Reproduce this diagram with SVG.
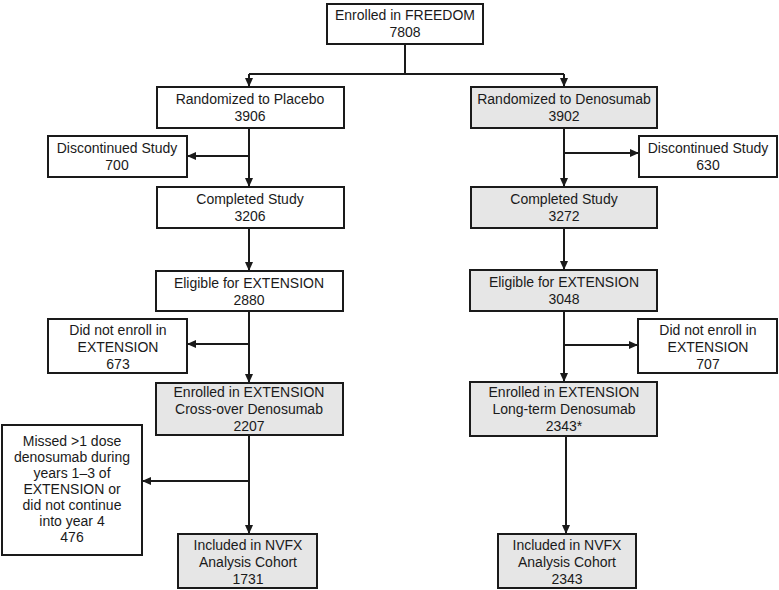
<svg xmlns="http://www.w3.org/2000/svg" width="779" height="590" viewBox="0 0 779 590">
<defs>
<marker id="ah" markerUnits="userSpaceOnUse" markerWidth="9" markerHeight="8" refX="8" refY="4" orient="auto">
<path d="M0,0 L9,4 L0,8 Z" fill="#1a1a1a"/>
</marker>
<style>
.b{fill:#fff;stroke:#1a1a1a;stroke-width:2}
.g{fill:#e6e6e6;stroke:#1a1a1a;stroke-width:2}
.t{font-family:"Liberation Sans",Arial,sans-serif;font-size:14px;fill:#1a1a1a;text-anchor:middle}
.c{fill:none;stroke:#1a1a1a;stroke-width:2}
.a{fill:none;stroke:#1a1a1a;stroke-width:2;marker-end:url(#ah)}
</style>
</defs>
<rect width="779" height="590" fill="#fff"/>
<g id="connectors">
<path class="c" d="M405,44 V74 M249,74 H564"/>
<path class="a" d="M249,74 V86"/>
<path class="a" d="M564,74 V86"/>
<path class="a" d="M249,128 V186"/>
<path class="a" d="M249,156 H188"/>
<path class="a" d="M564,128 V186"/>
<path class="a" d="M564,153 H638"/>
<path class="a" d="M249,228 V270"/>
<path class="a" d="M564,228 V269"/>
<path class="a" d="M249,311 V382"/>
<path class="a" d="M249,344 H188"/>
<path class="a" d="M564,311 V381"/>
<path class="a" d="M564,345 H637"/>
<path class="a" d="M249,435 V533"/>
<path class="a" d="M249,481 H143"/>
<path class="a" d="M566,436 V533"/>
</g>
<g id="n_freedom"><rect class="b" x="327" y="4" width="156" height="40"/><text class="t" x="405" y="20">Enrolled in FREEDOM</text><text class="t" x="405" y="37">7808</text></g>
<g id="n_placebo"><rect class="b" x="157" y="87" width="187" height="41"/><text class="t" x="250" y="104">Randomized to Placebo</text><text class="t" x="250" y="121">3906</text></g>
<g id="n_denosumab"><rect class="g" x="471" y="87" width="186" height="41"/><text class="t" x="564" y="104">Randomized to Denosumab</text><text class="t" x="564" y="121">3902</text></g>
<g id="n_disc_l"><rect class="b" x="48" y="136" width="139" height="41"/><text class="t" x="117" y="153">Discontinued Study</text><text class="t" x="117" y="170">700</text></g>
<g id="n_disc_r"><rect class="b" x="639" y="136" width="138" height="41"/><text class="t" x="708" y="153">Discontinued Study</text><text class="t" x="708" y="170">630</text></g>
<g id="n_comp_l"><rect class="b" x="157" y="187" width="187" height="41"/><text class="t" x="250" y="204">Completed Study</text><text class="t" x="250" y="221">3206</text></g>
<g id="n_comp_r"><rect class="g" x="471" y="187" width="186" height="41"/><text class="t" x="564" y="204">Completed Study</text><text class="t" x="564" y="221">3272</text></g>
<g id="n_elig_l"><rect class="b" x="156" y="271" width="187" height="40"/><text class="t" x="249" y="288">Eligible for EXTENSION</text><text class="t" x="249" y="305">2880</text></g>
<g id="n_elig_r"><rect class="g" x="470" y="270" width="187" height="41"/><text class="t" x="564" y="287">Eligible for EXTENSION</text><text class="t" x="564" y="304">3048</text></g>
<g id="n_dne_l"><rect class="b" x="48" y="319" width="139" height="54"/><text class="t" x="118" y="335">Did not enroll in</text><text class="t" x="118" y="352">EXTENSION</text><text class="t" x="118" y="369">673</text></g>
<g id="n_dne_r"><rect class="b" x="638" y="319" width="139" height="54"/><text class="t" x="708" y="335">Did not enroll in</text><text class="t" x="708" y="352">EXTENSION</text><text class="t" x="708" y="369">707</text></g>
<g id="n_enr_l"><rect class="g" x="156" y="383" width="187" height="52"/><text class="t" x="249" y="397">Enrolled in EXTENSION</text><text class="t" x="249" y="414">Cross-over Denosumab</text><text class="t" x="249" y="431">2207</text></g>
<g id="n_enr_r"><rect class="g" x="470" y="382" width="187" height="54"/><text class="t" x="564" y="397">Enrolled in EXTENSION</text><text class="t" x="564" y="414">Long-term Denosumab</text><text class="t" x="564" y="431">2343*</text></g>
<g id="n_missed"><rect class="b" x="2" y="425" width="140" height="130"/><text class="t" x="72" y="446">Missed &gt;1 dose</text><text class="t" x="72" y="462">denosumab during</text><text class="t" x="72" y="478">years 1–3 of</text><text class="t" x="72" y="494">EXTENSION or</text><text class="t" x="72" y="510">did not continue</text><text class="t" x="72" y="526">into year 4</text><text class="t" x="72" y="542">476</text></g>
<g id="n_incl_l"><rect class="g" x="178" y="534" width="139" height="54"/><text class="t" x="248" y="550">Included in NVFX</text><text class="t" x="248" y="567">Analysis Cohort</text><text class="t" x="248" y="584">1731</text></g>
<g id="n_incl_r"><rect class="g" x="498" y="534" width="138" height="54"/><text class="t" x="567" y="550">Included in NVFX</text><text class="t" x="567" y="567">Analysis Cohort</text><text class="t" x="567" y="584">2343</text></g>
</svg>
